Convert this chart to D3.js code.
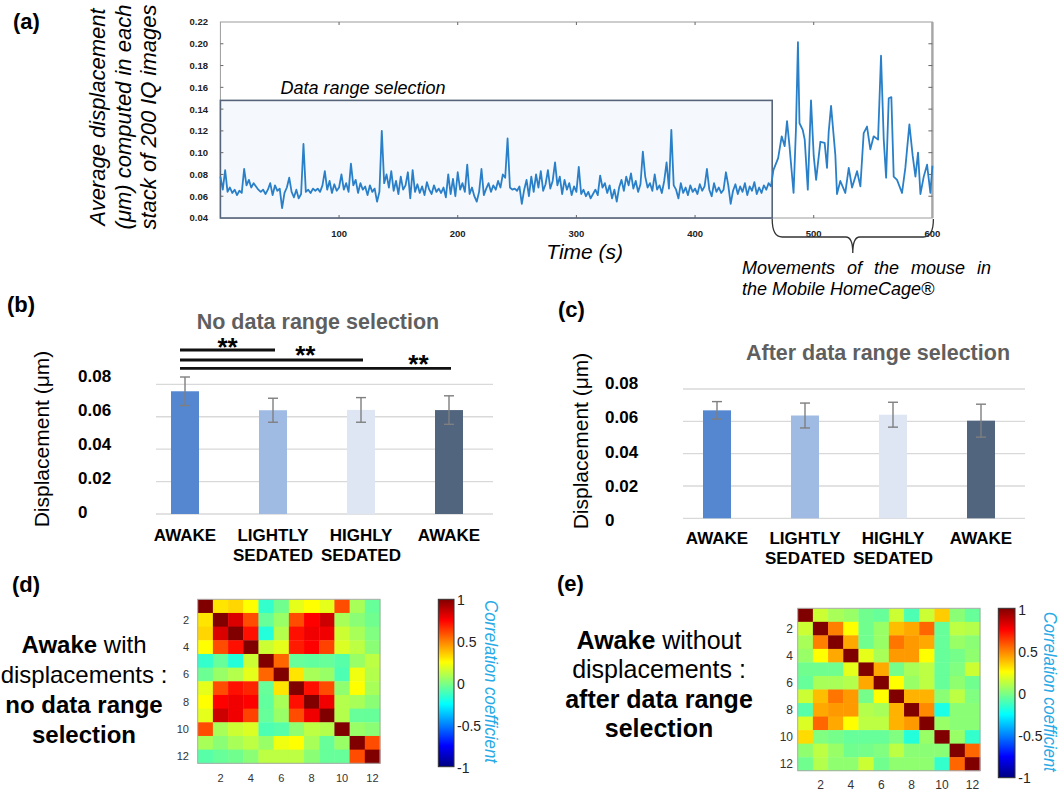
<!DOCTYPE html>
<html><head><meta charset="utf-8">
<script src="https://cdn.jsdelivr.net/npm/d3@7"></script>
<style>html,body{margin:0;padding:0;background:#fff;} svg{display:block;}</style>
</head><body>
<svg id="fig" width="1061" height="791"></svg>
<script>
// ---------------- DATA ----------------
// (a) displacement time series, calm part sampled every 2 s from t = 0 s
const calmStepSec = 2;
const calmDisplacement = [
 0.078,0.066,0.084,0.064,0.068,0.063,0.066,0.061,0.065,0.063,
 0.085,0.070,0.075,0.068,0.072,0.069,0.066,0.064,0.066,0.062,
 0.066,0.072,0.061,0.070,0.065,0.067,0.049,0.063,0.068,0.077,
 0.064,0.059,0.066,0.058,0.062,0.108,0.064,0.066,0.063,0.067,
 0.065,0.067,0.064,0.070,0.083,0.066,0.074,0.063,0.071,0.065,
 0.068,0.080,0.066,0.072,0.064,0.090,0.070,0.075,0.063,0.072,
 0.066,0.069,0.061,0.070,0.064,0.067,0.055,0.064,0.120,0.072,
 0.080,0.068,0.083,0.065,0.074,0.062,0.078,0.066,0.070,0.082,
 0.058,0.084,0.064,0.071,0.063,0.069,0.061,0.073,0.066,0.062,
 0.070,0.064,0.067,0.063,0.068,0.059,0.080,0.062,0.076,0.060,
 0.082,0.066,0.072,0.064,0.089,0.062,0.068,0.060,0.055,0.064,
 0.085,0.061,0.067,0.072,0.064,0.070,0.066,0.074,0.068,0.080,
 0.077,0.113,0.068,0.066,0.067,0.065,0.069,0.053,0.066,0.075,
 0.060,0.078,0.064,0.080,0.068,0.083,0.065,0.071,0.084,0.067,
 0.074,0.091,0.070,0.078,0.062,0.075,0.066,0.072,0.061,0.069,
 0.064,0.087,0.062,0.066,0.060,0.064,0.058,0.062,0.066,0.061,
 0.079,0.068,0.072,0.063,0.070,0.058,0.066,0.055,0.068,0.075,
 0.065,0.078,0.070,0.081,0.067,0.074,0.064,0.071,0.101,0.078,
 0.068,0.072,0.065,0.080,0.066,0.070,0.063,0.074,0.091,0.067,
 0.121,0.070,0.066,0.058,0.072,0.063,0.068,0.061,0.070,0.064,
 0.067,0.062,0.071,0.065,0.069,0.085,0.066,0.060,0.072,0.064,
 0.068,0.063,0.066,0.082,0.070,0.053,0.065,0.071,0.062,0.069,
 0.064,0.072,0.061,0.069,0.065,0.073,0.062,0.068,0.063,0.070,
 0.066,0.072,0.069
];
// (a) movement part (irregular times, s)
const movementTimes = [466,470,473,475.5,477.5,479.5,483,485,486.7,488,
 490.7,492.4,495,497.7,500,502,505.6,509.2,511.2,512.6,
 514.6,518.2,519.6,522.4,526.6,529.5,532.3,536.5,539.3,542.1,
 544.9,547.7,550.5,554.2,556.7,559,561,563.2,565.4,567.4,
 570.2,574.4,577.2,580.6,583.4,585.7,587.9,589.9,592.7,595.5,
 598.3,600];
const movementDisplacement = [0.084,0.095,0.115,0.106,0.129,0.107,0.063,0.121,0.2015,0.127,
 0.121,0.112,0.066,0.148,0.097,0.075,0.110,0.109,0.086,0.119,
 0.143,0.098,0.062,0.074,0.063,0.086,0.068,0.083,0.069,0.118,
 0.124,0.103,0.115,0.112,0.189,0.112,0.077,0.150,0.151,0.078,
 0.075,0.063,0.086,0.126,0.097,0.078,0.100,0.062,0.078,0.089,
 0.063,0.088];
const timeDomain = [0, 600];
const dispDomain = [0.04, 0.22];
const timeTicks = [100, 200, 300, 400, 500, 600];
const dispTicks = [0.04, 0.06, 0.08, 0.10, 0.12, 0.14, 0.16, 0.18, 0.20, 0.22];
const selectionRange = [0, 465];       // seconds
const selectionTop = 0.148;            // µm

// (b), (c) bar charts
const barCategories = [["AWAKE"], ["LIGHTLY", "SEDATED"], ["HIGHLY", "SEDATED"], ["AWAKE"]];
const noSelectionMeans = [0.0757, 0.0640, 0.0642, 0.0641];
const noSelectionErrors = [0.0088, 0.0074, 0.0076, 0.0088];
const afterSelectionMeans = [0.0668, 0.0636, 0.0641, 0.0604];
const afterSelectionErrors = [0.0054, 0.0077, 0.0077, 0.0102];
const barTicks = [0, 0.02, 0.04, 0.06, 0.08];
const significancePairs = [[0, 1], [0, 2], [0, 3]];
const significanceLabels = ["**", "**", "**"];

// (d), (e) correlation matrices (12 x 12)
const corrNoSelection = [
 [1.00,0.30,0.33,0.25,-0.15,-0.03,0.20,0.25,0.20,0.60,0.08,-0.05],
 [0.30,1.00,0.82,0.60,-0.05,0.05,0.60,0.75,0.85,0.08,0.02,-0.03],
 [0.33,0.82,1.00,0.72,-0.18,0.10,0.72,0.78,0.78,0.15,0.08,0.00],
 [0.25,0.60,0.72,1.00,0.15,0.20,0.70,0.75,0.62,0.18,0.12,0.02],
 [-0.15,-0.05,-0.18,0.15,1.00,0.55,-0.05,-0.06,-0.05,-0.08,0.05,0.12],
 [-0.04,0.05,0.10,0.20,0.55,1.00,0.30,0.08,0.05,-0.10,0.22,0.10],
 [0.20,0.60,0.72,0.68,-0.05,0.30,1.00,0.72,0.60,0.03,0.25,0.08],
 [0.25,0.75,0.78,0.75,-0.06,0.08,0.72,1.00,0.78,0.10,0.08,0.02],
 [0.20,0.85,0.78,0.62,-0.05,0.05,0.60,0.78,1.00,0.10,-0.05,-0.05],
 [0.60,0.08,0.15,0.18,-0.10,-0.08,0.03,0.12,0.10,1.00,0.05,0.02],
 [0.08,0.02,0.08,0.12,0.05,0.22,0.25,0.08,-0.05,0.05,1.00,0.60],
 [-0.08,-0.05,-0.03,0.02,0.12,0.12,0.12,0.02,-0.05,-0.05,0.60,1.00]
];
const corrAfterSelection = [
 [1.00,0.15,0.08,0.05,-0.03,-0.05,0.15,-0.10,0.15,0.35,0.02,-0.05],
 [0.15,1.00,0.50,0.25,-0.03,0.05,0.38,0.42,0.55,-0.05,0.12,0.10],
 [0.08,0.50,1.00,0.42,-0.03,0.05,0.52,0.45,0.42,-0.05,0.05,0.02],
 [0.05,0.25,0.42,1.00,0.20,0.08,0.45,0.45,0.25,-0.05,-0.02,0.03],
 [-0.03,-0.03,-0.03,0.20,1.00,0.42,-0.02,0.08,0.12,-0.05,0.00,0.15],
 [-0.05,0.08,0.08,0.10,0.42,1.00,0.25,0.05,0.12,-0.05,0.03,-0.03],
 [0.15,0.38,0.52,0.45,-0.02,0.25,1.00,0.40,0.40,0.02,0.12,0.00],
 [-0.08,0.42,0.45,0.45,0.10,0.08,0.40,1.00,0.48,-0.20,0.02,0.02],
 [0.18,0.55,0.42,0.25,0.12,0.12,0.40,0.45,1.00,0.05,0.02,0.02],
 [0.32,0.00,-0.02,-0.05,-0.05,-0.05,0.00,-0.18,0.05,1.00,0.05,-0.15],
 [0.03,0.12,0.05,-0.03,-0.02,0.00,0.12,0.02,0.02,0.02,1.00,0.55],
 [-0.03,0.10,0.03,0.03,0.15,-0.03,0.03,0.03,0.03,-0.15,0.55,1.00]
];
const matrixTicks = [2, 4, 6, 8, 10, 12];
const colorbarTicks = [1, 0.5, 0, -0.5, -1];

// ---------------- DRAWING ----------------
const FONT = "'Liberation Sans', Arial, Helvetica, sans-serif";
const svg = d3.select("#fig");
svg.append("rect").attr("width", 1061).attr("height", 791).attr("fill", "#fff");

function text(g, x, y, s, o = {}) {
  return g.append("text").attr("x", x).attr("y", y).text(s)
    .attr("font-family", FONT)
    .attr("font-size", o.size || 12)
    .attr("font-weight", o.weight || "normal")
    .attr("font-style", o.style || "normal")
    .attr("fill", o.fill || "#000")
    .attr("text-anchor", o.anchor || "start");
}

// ===== Panel (a) =====
const ga = svg.append("g");
const xA = d3.scaleLinear().domain(timeDomain).range([220.4, 932.4]);
const yA = d3.scaleLinear().domain(dispDomain).range([218, 22]);

text(ga, 13, 29, "(a)", {size: 22, weight: "bold"});

ga.append("rect").attr("x", xA(0)).attr("y", yA(0.22)).attr("width", xA(600) - xA(0))
  .attr("height", yA(0.04) - yA(0.22)).attr("fill", "none").attr("stroke", "#9c9c9c").attr("stroke-width", 1);
ga.append("line").attr("x1", xA(600)).attr("x2", xA(600)).attr("y1", yA(0.22)).attr("y2", yA(0.04))
  .attr("stroke", "#a6a6a6").attr("stroke-width", 2.4);

// selection box
ga.append("rect").attr("x", xA(selectionRange[0])).attr("y", yA(selectionTop))
  .attr("width", xA(selectionRange[1]) - xA(selectionRange[0]))
  .attr("height", yA(0.04) - yA(selectionTop))
  .attr("fill", "#f5f8fd").attr("stroke", "#56657a").attr("stroke-width", 1.6);

// tick marks
dispTicks.slice(1, -1).forEach(v => {
  ga.append("line").attr("x1", xA(0)).attr("x2", xA(0) + 3).attr("y1", yA(v)).attr("y2", yA(v)).attr("stroke", "#666");
  ga.append("line").attr("x1", xA(600) - 4).attr("x2", xA(600)).attr("y1", yA(v)).attr("y2", yA(v)).attr("stroke", "#666");
});
timeTicks.slice(0, -1).forEach(v => {
  ga.append("line").attr("x1", xA(v)).attr("x2", xA(v)).attr("y1", yA(0.22)).attr("y2", yA(0.22) + 3).attr("stroke", "#666");
  ga.append("line").attr("x1", xA(v)).attr("x2", xA(v)).attr("y1", yA(0.04)).attr("y2", yA(0.04) - 3).attr("stroke", "#666");
});
dispTicks.forEach(v => text(ga, 208, yA(v) + 3.4, v.toFixed(2), {size: 9.5, weight: "bold", anchor: "end", fill: "#222"}));
timeTicks.forEach(v => text(ga, xA(v), 236.5, String(v), {size: 9.5, weight: "bold", anchor: "middle", fill: "#222"}));

// series
const seriesPts = calmDisplacement.map((v, i) => [i * calmStepSec, v])
  .concat(movementTimes.map((t, i) => [t, movementDisplacement[i]]));
ga.append("path").datum(seriesPts)
  .attr("d", d3.line().x(d => xA(d[0])).y(d => yA(d[1])))
  .attr("fill", "none").attr("stroke", "#2a80c8").attr("stroke-width", 1.8).attr("stroke-linejoin", "round");

// texts
text(ga, 363, 93.5, "Data range selection", {size: 18, style: "italic", anchor: "middle"});
text(ga, 584.7, 259, "Time (s)", {size: 21, style: "italic", anchor: "middle"});
[["Average displacement", 105], ["(μm) computed in each", 130.5], ["stack of 200 IQ images", 156]].forEach(([s, bx]) => {
  text(ga, 0, 0, s, {size: 22, style: "italic", anchor: "middle"}).attr("transform", `translate(${bx},117) rotate(-90)`);
});

// brace
{
  const x0 = xA(selectionRange[1]), x1 = xA(600) + 1, m = (x0 + x1) / 2, yb = 237, yt = 219;
  const p = `M${x0},${yt} C${x0},${yb - 6} ${x0 + 3},${yb} ${x0 + 10},${yb} L${m - 7},${yb} C${m - 2},${yb} ${m},${yb + 5} ${m},${yb + 16} C${m},${yb + 5} ${m + 2},${yb} ${m + 7},${yb} L${x1 - 10},${yb} C${x1 - 3},${yb} ${x1},${yb - 6} ${x1},${yt}`;
  ga.append("path").attr("d", p).attr("fill", "none").attr("stroke", "#333").attr("stroke-width", 1.3);
}
text(ga, 742, 274, "Movements of the mouse in", {size: 18, style: "italic"}).style("word-spacing", "7px");
text(ga, 742, 295, "the Mobile HomeCage®", {size: 18, style: "italic"});

// ===== Bar panels =====
function barPanel(cfg) {
  const g = svg.append("g");
  const x = d3.scalePoint().domain(d3.range(cfg.means.length)).range(cfg.xRange);
  const y = d3.scaleLinear().domain([0, 0.08]).range(cfg.yRange);
  const yLab = d3.scaleLinear().domain([0, 0.08]).range(cfg.labelRange);
  const bw = 28;
  text(g, cfg.tagPos[0], cfg.tagPos[1], cfg.tag, {size: 22, weight: "bold"});
  text(g, cfg.titlePos[0], cfg.titlePos[1], cfg.title, {size: 21.5, weight: "bold", anchor: "middle", fill: "#5f5f5f"});
  text(g, 0, 0, "Displacement (μm)", {size: 21, anchor: "middle"})
    .attr("transform", `translate(${cfg.ylabPos[0]},${cfg.ylabPos[1]}) rotate(-90)`);
  barTicks.forEach(v => {
    g.append("line").attr("x1", cfg.gridX[0]).attr("x2", cfg.gridX[1]).attr("y1", y(v)).attr("y2", y(v))
      .attr("stroke", "#d9d9d9").attr("stroke-width", 1.3);
    text(g, cfg.labelX, yLab(v), v === 0 ? "0" : v.toFixed(2), {size: 17, weight: "bold"});
  });
  const colors = ["#5587d0", "#9fbbe3", "#dee6f4", "#52657f"];
  g.selectAll(".bar").data(cfg.means).enter().append("rect")
    .attr("x", (d, i) => x(i) - bw / 2).attr("y", d => y(d)).attr("width", bw).attr("height", d => y(0) - y(d))
    .attr("fill", (d, i) => colors[i]);
  cfg.means.forEach((m, i) => {
    const e = cfg.errors[i], cx = x(i);
    g.append("line").attr("x1", cx).attr("x2", cx).attr("y1", y(m + e)).attr("y2", y(m - e)).attr("stroke", "#7f7f7f").attr("stroke-width", 1.4);
    [m + e, m - e].forEach(v => g.append("line").attr("x1", cx - 5).attr("x2", cx + 5).attr("y1", y(v)).attr("y2", y(v)).attr("stroke", "#7f7f7f").attr("stroke-width", 1.4));
    barCategories[i].forEach((s, k) => text(g, cx, cfg.catY + k * 20, s, {size: 17, weight: "bold", anchor: "middle"}));
  });
  return {g, x, y};
}

const pb = barPanel({
  tag: "(b)", tagPos: [7, 312], title: "No data range selection", titlePos: [318, 329],
  ylabPos: [49, 439], means: noSelectionMeans, errors: noSelectionErrors,
  xRange: [185, 449], yRange: [514, 384.3], labelRange: [517.7, 381.7], labelX: 78,
  gridX: [156, 493], catY: 541
});
barPanel({
  tag: "(c)", tagPos: [558, 317], title: "After data range selection", titlePos: [878, 360],
  ylabPos: [588, 441], means: afterSelectionMeans, errors: afterSelectionErrors,
  xRange: [717, 981], yRange: [518.3, 389], labelRange: [525.7, 389.3], labelX: 605,
  gridX: [683, 1025], catY: 544
});

// significance bars on (b)
{
  const lineY = [350, 360, 368.3];
  const labelFrac = [0.5, 0.685, 0.88];
  const labelBase = [356.3, 364.3, 373.3];
  significancePairs.forEach(([a, b], k) => {
    const xa = pb.x(a) - 5, xb = pb.x(b) + 2;
    pb.g.append("line").attr("x1", xa).attr("x2", xb).attr("y1", lineY[k]).attr("y2", lineY[k])
      .attr("stroke", "#111").attr("stroke-width", 2.8);
    text(pb.g, xa + (xb - xa) * labelFrac[k], labelBase[k], significanceLabels[k], {size: 26, weight: "bold", anchor: "middle"});
  });
}

// ===== Heatmaps =====
function jet(t) {
  const c = v => Math.max(0, Math.min(1, v));
  const r = c(1.5 - Math.abs(4 * t - 3)), g = c(1.5 - Math.abs(4 * t - 2)), b = c(1.5 - Math.abs(4 * t - 1));
  return d3.rgb(r * 255, g * 255, b * 255).formatHex();
}
const defs = svg.append("defs");
const grad = defs.append("linearGradient").attr("id", "jetGrad").attr("x1", 0).attr("y1", 1).attr("x2", 0).attr("y2", 0);
d3.range(0, 1.0001, 0.025).forEach(t => grad.append("stop").attr("offset", t).attr("stop-color", jet(t)));

function heatPanel(cfg) {
  const g = svg.append("g");
  const n = cfg.matrix.length;
  const x = d3.scaleBand().domain(d3.range(1, n + 1)).range(cfg.xRange);
  const y = d3.scaleBand().domain(d3.range(1, n + 1)).range(cfg.yRange);
  const col = v => jet((v + 1) / 2);
  cfg.matrix.forEach((row, r) => row.forEach((v, c) => {
    g.append("rect").attr("x", x(c + 1)).attr("y", y(r + 1)).attr("width", x.bandwidth() + 0.4).attr("height", y.bandwidth() + 0.4)
      .attr("fill", col(v));
  }));
  g.append("rect").attr("x", cfg.xRange[0]).attr("y", cfg.yRange[0]).attr("width", cfg.xRange[1] - cfg.xRange[0])
    .attr("height", cfg.yRange[1] - cfg.yRange[0]).attr("fill", "none").attr("stroke", "#aaa").attr("stroke-width", 1);
  matrixTicks.forEach(t => {
    text(g, cfg.yLabX, y(t) + y.bandwidth() / 2 + 4, String(t), {size: cfg.tickSize, anchor: "end", fill: "#333"});
    text(g, x(t) + x.bandwidth() / 2, cfg.xLabY, String(t), {size: cfg.tickSize, anchor: "middle", fill: "#333"});
  });
  // colorbar
  const cb = cfg.cbar;
  g.append("rect").attr("x", cb.x).attr("y", cb.y0).attr("width", cb.w).attr("height", cb.y1 - cb.y0)
    .attr("fill", "url(#jetGrad)").attr("stroke", "#333").attr("stroke-width", 1);
  const cy = d3.scaleLinear().domain([1, -1]).range(cb.labRange);
  colorbarTicks.forEach(v => text(g, cb.labX, cy(v), String(v), {size: 14, fill: "#222"}));
  text(g, 0, 0, "Correlation coefficient", {size: 18, style: "italic", anchor: "middle", fill: "#27aae6"})
    .attr("textLength", cb.titleLen).attr("lengthAdjust", "spacingAndGlyphs")
    .attr("transform", `translate(${cb.titleX},${cb.titleY}) rotate(90)`);
  // caption
  text(g, cfg.tagPos[0], cfg.tagPos[1], cfg.tag, {size: 22, weight: "bold"});
  cfg.caption.forEach((parts, k) => {
    const t = g.append("text").attr("x", cfg.capX).attr("y", cfg.capY0 + k * cfg.capDy)
      .attr("text-anchor", "middle").attr("font-family", FONT).attr("font-size", cfg.capSize);
    parts.forEach(([s, bold]) => t.append("tspan").text(s).attr("font-weight", bold ? "bold" : "normal"));
  });
}

heatPanel({
  matrix: corrNoSelection, xRange: [197.7, 380], yRange: [599.3, 763.3], yLabX: 189, xLabY: 782, tickSize: 11,
  cbar: {x: 438.3, w: 15.7, y0: 599.3, y1: 766.7, labX: 457, labRange: [605, 773.3], titleX: 484.5, titleY: 681.5, titleLen: 163},
  tag: "(d)", tagPos: [12, 592], capX: 84, capY0: 653, capDy: 30, capSize: 24,
  caption: [[["Awake", true], [" with", false]], [["displacements :", false]], [["no data range", true]], [["selection", true]]]
});
heatPanel({
  matrix: corrAfterSelection, xRange: [797.7, 980], yRange: [608.3, 770.7], yLabX: 793, xLabY: 788.5, tickSize: 12,
  cbar: {x: 998.3, w: 16.7, y0: 608.3, y1: 777.7, labX: 1018.3, labRange: [615, 783.3], titleX: 1043.5, titleY: 691.7, titleLen: 160},
  tag: "(e)", tagPos: [557, 590.5], capX: 659, capY0: 649, capDy: 29.3, capSize: 25,
  caption: [[["Awake", true], [" without", false]], [["displacements :", false]], [["after data range", true]], [["selection", true]]]
});
</script></body></html>
